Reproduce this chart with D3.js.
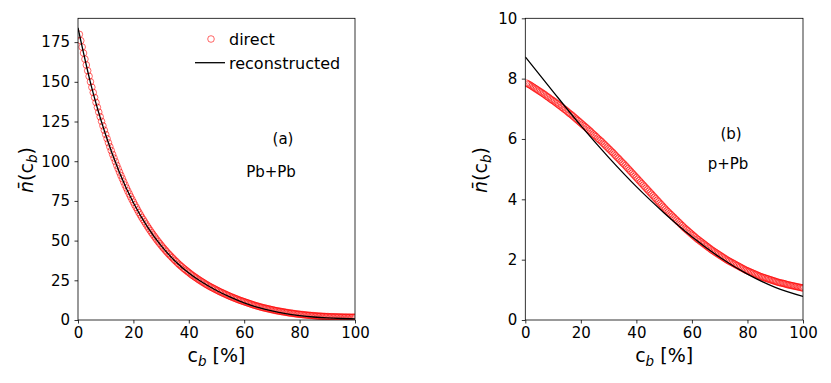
<!DOCTYPE html>
<html>
<head>
<meta charset="utf-8">
<script src="https://cdn.jsdelivr.net/npm/d3@7"></script>
<style>
  body { margin: 0; background: #fff; }
  svg { display: block; font-family: "DejaVu Sans", sans-serif; }
</style>
</head>
<body>
<svg id="drawing_region"></svg>
<script>
// centrality grid of the "direct" points (%)
const cb_points = [
  0.5, 1, 1.5, 2, 2.5, 3, 3.5, 4, 4.5, 5,
  5.5, 6, 6.5, 7, 7.5, 8, 8.5, 9, 9.5, 10,
  10.5, 11, 11.5, 12, 12.5, 13, 13.5, 14, 14.5, 15,
  15.5, 16, 16.5, 17, 17.5, 18, 18.5, 19, 19.5, 20,
  20.5, 21, 21.5, 22, 22.5, 23, 23.5, 24, 24.5, 25,
  25.5, 26, 26.5, 27, 27.5, 28, 28.5, 29, 29.5, 30,
  30.5, 31, 31.5, 32, 32.5, 33, 33.5, 34, 34.5, 35,
  35.5, 36, 36.5, 37, 37.5, 38, 38.5, 39, 39.5, 40,
  40.5, 41, 41.5, 42, 42.5, 43, 43.5, 44, 44.5, 45,
  45.5, 46, 46.5, 47, 47.5, 48, 48.5, 49, 49.5, 50,
  50.5, 51, 51.5, 52, 52.5, 53, 53.5, 54, 54.5, 55,
  55.5, 56, 56.5, 57, 57.5, 58, 58.5, 59, 59.5, 60,
  60.5, 61, 61.5, 62, 62.5, 63, 63.5, 64, 64.5, 65,
  65.5, 66, 66.5, 67, 67.5, 68, 68.5, 69, 69.5, 70,
  70.5, 71, 71.5, 72, 72.5, 73, 73.5, 74, 74.5, 75,
  75.5, 76, 76.5, 77, 77.5, 78, 78.5, 79, 79.5, 80,
  80.5, 81, 81.5, 82, 82.5, 83, 83.5, 84, 84.5, 85,
  85.5, 86, 86.5, 87, 87.5, 88, 88.5, 89, 89.5, 90,
  90.5, 91, 91.5, 92, 92.5, 93, 93.5, 94, 94.5, 95,
  95.5, 96, 96.5, 97, 97.5, 98, 98.5, 99, 99.5, 100
];

// (a) Pb+Pb
const pbpb_direct = [
  179.9, 175.9, 171.9, 168.1, 164.3, 160.6, 157.0, 153.5, 150.0, 146.6,
  143.3, 140.1, 137.0, 133.9, 130.9, 128.0, 125.1, 122.3, 119.5, 116.8,
  114.2, 111.6, 109.1, 106.7, 104.3, 102.0, 99.7, 97.4, 95.2, 93.1,
  91.0, 89.0, 87.0, 85.0, 83.1, 81.2, 79.4, 77.6, 75.9, 74.2,
  72.5, 70.9, 69.3, 67.7, 66.2, 64.7, 63.3, 61.9, 60.5, 59.1,
  57.8, 56.5, 55.2, 54.0, 52.8, 51.6, 50.4, 49.3, 48.2, 47.1,
  46.0, 45.0, 44.0, 43.0, 42.0, 41.1, 40.2, 39.3, 38.4, 37.5,
  36.7, 35.8, 35.0, 34.2, 33.5, 32.7, 32.0, 31.3, 30.6, 29.9,
  29.2, 28.5, 27.9, 27.3, 26.7, 26.1, 25.5, 24.9, 24.4, 23.8,
  23.3, 22.7, 22.2, 21.7, 21.2, 20.7, 20.3, 19.8, 19.4, 18.9,
  18.5, 18.0, 17.6, 17.2, 16.8, 16.4, 16.0, 15.6, 15.2, 14.8,
  14.5, 14.1, 13.8, 13.4, 13.1, 12.7, 12.4, 12.1, 11.8, 11.5,
  11.2, 10.9, 10.6, 10.3, 10.0, 9.7, 9.4, 9.15, 8.9, 8.65,
  8.4, 8.15, 7.9, 7.7, 7.5, 7.3, 7.1, 6.9, 6.7, 6.5,
  6.3, 6.1, 5.9, 5.75, 5.6, 5.45, 5.3, 5.15, 5.0, 4.85,
  4.7, 4.55, 4.4, 4.3, 4.2, 4.05, 3.9, 3.8, 3.7, 3.6,
  3.5, 3.4, 3.3, 3.2, 3.1, 3.02, 2.95, 2.87, 2.8, 2.72,
  2.65, 2.57, 2.5, 2.45, 2.4, 2.35, 2.3, 2.25, 2.2, 2.15,
  2.1, 2.07, 2.05, 2.02, 2.0, 1.97, 1.95, 1.92, 1.9, 1.87,
  1.85, 1.82, 1.8, 1.8, 1.8, 1.77, 1.75, 1.75, 1.75, 1.74
];
const pbpb_cb = [0, 5, 10, 15, 20, 25, 30, 35, 40, 45, 50, 55, 60, 65, 70, 75, 80, 85, 90, 95, 100];
const pbpb_reco = [184, 146, 116.5, 92.8, 73.8, 58.8, 46.8, 37.2, 29.6, 23.6, 18.6, 14.4, 10.8, 7.9, 5.7, 4.0, 2.8, 1.9, 1.3, 0.95, 0.75];

// (b) p+Pb
const ppb_direct = [
  7.85, 7.82, 7.80, 7.77, 7.74, 7.71, 7.68, 7.65, 7.62, 7.59,
  7.56, 7.53, 7.50, 7.47, 7.43, 7.40, 7.37, 7.33, 7.30, 7.27,
  7.24, 7.20, 7.17, 7.13, 7.10, 7.06, 7.03, 6.99, 6.96, 6.92,
  6.88, 6.84, 6.81, 6.77, 6.73, 6.69, 6.65, 6.61, 6.57, 6.53,
  6.49, 6.45, 6.41, 6.37, 6.33, 6.29, 6.25, 6.20, 6.16, 6.12,
  6.08, 6.03, 5.99, 5.95, 5.91, 5.86, 5.82, 5.77, 5.73, 5.68,
  5.64, 5.59, 5.55, 5.50, 5.45, 5.40, 5.36, 5.31, 5.26, 5.21,
  5.17, 5.12, 5.07, 5.02, 4.97, 4.92, 4.87, 4.82, 4.77, 4.72,
  4.67, 4.62, 4.57, 4.52, 4.47, 4.42, 4.37, 4.32, 4.27, 4.22,
  4.17, 4.12, 4.07, 4.02, 3.97, 3.92, 3.87, 3.82, 3.77, 3.72,
  3.67, 3.62, 3.58, 3.53, 3.49, 3.44, 3.40, 3.35, 3.31, 3.26,
  3.22, 3.17, 3.13, 3.08, 3.04, 3.00, 2.96, 2.92, 2.88, 2.84,
  2.80, 2.76, 2.72, 2.68, 2.65, 2.61, 2.58, 2.54, 2.51, 2.47,
  2.44, 2.40, 2.37, 2.33, 2.30, 2.27, 2.24, 2.21, 2.18, 2.15,
  2.12, 2.09, 2.06, 2.03, 2.00, 1.97, 1.95, 1.92, 1.90, 1.87,
  1.85, 1.82, 1.80, 1.77, 1.75, 1.72, 1.70, 1.67, 1.65, 1.63,
  1.61, 1.59, 1.57, 1.55, 1.53, 1.51, 1.49, 1.47, 1.45, 1.43,
  1.42, 1.40, 1.39, 1.37, 1.36, 1.34, 1.33, 1.31, 1.30, 1.28,
  1.27, 1.25, 1.24, 1.23, 1.22, 1.21, 1.20, 1.18, 1.17, 1.16,
  1.15, 1.14, 1.13, 1.12, 1.11, 1.10, 1.09, 1.08, 1.07, 1.06
];
const ppb_cb = [0, 10, 20, 30, 40, 50, 60, 70, 80, 90, 100];
const ppb_reco = [8.72, 7.57, 6.44, 5.39, 4.42, 3.55, 2.76, 2.08, 1.52, 1.08, 0.78];

const x_ticks = [0, 20, 40, 60, 80, 100];
const pbpb_y_ticks = [0, 25, 50, 75, 100, 125, 150, 175];
const ppb_y_ticks = [0, 2, 4, 6, 8, 10];

const svg = d3.select('#drawing_region')
    .attr('width', 831)
    .attr('height', 383);

class CentralityPlot {
  constructor(config, data) {
    this.config = config;
    this.data = data;
    this.init();
  }
  init() {
    let self = this;
    const c = self.config;
    self.inner_width = c.width;
    self.inner_height = c.height;
    self.chart = svg.append('g')
        .attr('transform', `translate(${c.left}, ${c.top})`);

    self.xscale = d3.scaleLinear().domain([0, 100]).range([0, self.inner_width]);
    self.yscale = d3.scaleLinear().domain(c.ydomain).range([self.inner_height, 0]);

    self.chart.append('clipPath').attr('id', c.id + '_clip')
      .append('rect')
        .attr('width', self.inner_width)
        .attr('height', self.inner_height);

    self.xaxis = d3.axisBottom(self.xscale).tickValues(x_ticks)
        .tickSizeInner(3.5).tickSizeOuter(0).tickPadding(3.5);
    self.yaxis = d3.axisLeft(self.yscale).tickValues(c.yticks)
        .tickSizeInner(3.5).tickSizeOuter(0).tickPadding(4.5);
  }
  render() {
    let self = this;
    const c = self.config;
    const plot = self.chart.append('g').attr('clip-path', `url(#${c.id}_clip)`);

    plot.selectAll('circle')
      .data(self.data.points)
      .join('circle')
        .attr('cx', d => self.xscale(d.x))
        .attr('cy', d => self.yscale(d.y))
        .attr('r', 3.3)
        .attr('fill', 'none')
        .attr('stroke', '#ff0000')
        .attr('stroke-opacity', 0.6)
        .attr('stroke-width', 1);

    const line = d3.line()
        .x(d => self.xscale(d.x))
        .y(d => self.yscale(d.y))
        .curve(d3.curveMonotoneX);
    plot.append('path')
        .attr('d', line(self.data.line))
        .attr('fill', 'none')
        .attr('stroke', 'black')
        .attr('stroke-width', 1.3);

    const xg = self.chart.append('g')
        .attr('transform', `translate(0, ${self.inner_height})`)
        .call(self.xaxis);
    const yg = self.chart.append('g').call(self.yaxis);
    [xg, yg].forEach(g => {
      g.select('.domain').remove();
      g.selectAll('line').attr('stroke', 'black').attr('stroke-width', 0.8);
      g.selectAll('text').attr('font-size', 15).attr('font-family', 'DejaVu Sans').attr('fill', 'black');
    });

    // frame
    self.chart.append('rect')
        .attr('width', self.inner_width)
        .attr('height', self.inner_height)
        .attr('fill', 'none')
        .attr('stroke', 'black')
        .attr('stroke-width', 0.8);

    // axis labels
    const xl = self.chart.append('text')
        .attr('x', self.inner_width / 2)
        .attr('y', 362 - c.top)
        .attr('text-anchor', 'middle')
        .attr('font-size', 19);
    xl.append('tspan').text('c');
    xl.append('tspan').attr('font-style', 'italic').attr('font-size', 13.5).attr('dy', 4).text('b');
    xl.append('tspan').attr('dy', -4).text(' [%]');

    const yl = self.chart.append('text')
        .attr('transform', `translate(${c.ylabel_x - c.left}, ${170 - c.top}) rotate(-90)`)
        .attr('text-anchor', 'middle')
        .attr('font-size', 19);
    yl.append('tspan').attr('font-style', 'italic').text('n\u0304');
    yl.append('tspan').text('(c');
    yl.append('tspan').attr('font-style', 'italic').attr('font-size', 13.5).attr('dy', 4).text('b');
    yl.append('tspan').attr('dy', -4).text(')');

    c.notes.forEach(n => {
      svg.append('text')
          .attr('x', n.x).attr('y', n.y)
          .attr('text-anchor', 'middle')
          .attr('font-size', 15)
          .text(n.text);
    });
  }
}

const zip = (xs, ys) => xs.map((x, i) => ({x: x, y: ys[i]}));

const left_plot = new CentralityPlot({
  id: 'pbpb', left: 78, top: 18.3, width: 277, height: 301.7,
  ydomain: [0, 190], yticks: pbpb_y_ticks, ylabel_x: 33,
  notes: [{text: '(a)', x: 283, y: 144}, {text: 'Pb+Pb', x: 271, y: 176.5}]
}, {points: zip(cb_points, pbpb_direct), line: zip(pbpb_cb, pbpb_reco)});
left_plot.render();

const right_plot = new CentralityPlot({
  id: 'ppb', left: 525.3, top: 18.3, width: 277.7, height: 301.7,
  ydomain: [0, 10], yticks: ppb_y_ticks, ylabel_x: 487,
  notes: [{text: '(b)', x: 731, y: 139}, {text: 'p+Pb', x: 728, y: 169}]
}, {points: zip(cb_points, ppb_direct), line: zip(ppb_cb, ppb_reco)});
right_plot.render();

// legend of panel (a)
const legend = svg.append('g');
legend.append('circle')
    .attr('cx', 211).attr('cy', 39).attr('r', 3.3)
    .attr('fill', 'none').attr('stroke', '#ff0000').attr('stroke-opacity', 0.6);
legend.append('text').attr('x', 229).attr('y', 45).attr('font-size', 16).text('direct');
legend.append('line')
    .attr('x1', 195).attr('x2', 225).attr('y1', 62.7).attr('y2', 62.7)
    .attr('stroke', 'black').attr('stroke-width', 1.3);
legend.append('text').attr('x', 229).attr('y', 68.5).attr('font-size', 16).text('reconstructed');
</script>
</body>
</html>
